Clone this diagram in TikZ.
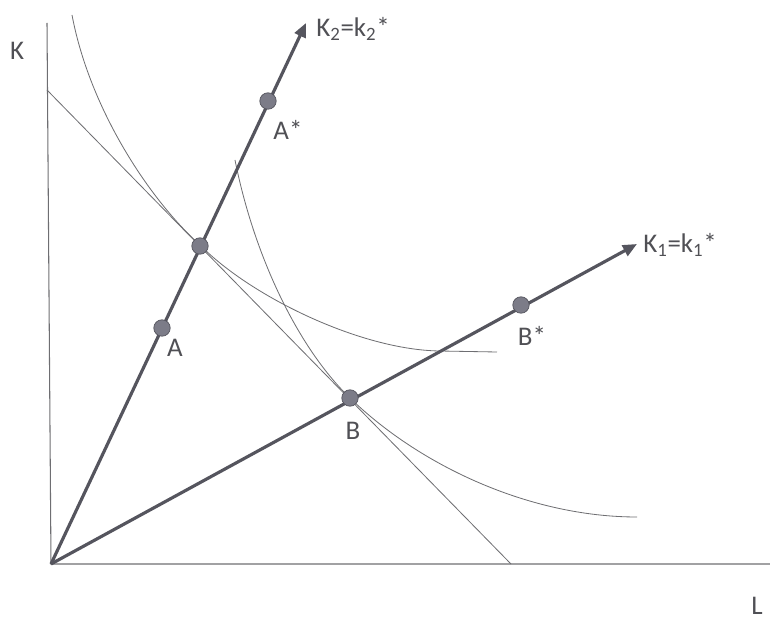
\documentclass[tikz,border=0pt]{standalone}
\usepackage{fontspec}
\setmainfont{Carlito}
\usepackage{tikz}
\usetikzlibrary{arrows.meta}

\definecolor{linegray}{HTML}{6E6E72}
\definecolor{raygray}{HTML}{55555E}
\definecolor{dotgray}{HTML}{7C7C88}
\definecolor{textgray}{HTML}{505055}

\begin{document}
\begin{tikzpicture}[
        x=0.03cm, y=-0.03cm,
        axis/.style={
            draw=linegray,
            line width=0.9pt
        },
        curve/.style={
            draw=linegray,
            line width=0.7pt
        },
        ray/.style={
            draw=raygray,
            line width=2.7pt,
            -{Triangle[length=12pt,width=10pt]}
        },
        point/.style={
            circle,
            fill=dotgray,
            draw=raygray,
            line width=0.6pt,
            inner sep=0pt,
            minimum size=14pt
        },
        lbl/.style={
            text=textgray,
            font=\fontsize{23}{25}\selectfont,
            inner sep=1pt
        }
    ]
    \useasboundingbox (0,0) rectangle (770,620);

    \coordinate (origin) at (51,564);
    \coordinate (ktop) at (47,23);
    \coordinate (lend) at (770,564);
    \coordinate (tip2) at (306,23);
    \coordinate (tip1) at (637,244);
    \coordinate (costtop) at (47,90);
    \coordinate (costend) at (511,564);

    % axes
    \draw[axis] (ktop) -- (origin) -- (lend);
    \node[lbl] (klabel) at (17,51) {K};
    \node[lbl] (llabel) at (757,606) {L};

    % isocost line
    \draw[curve] (costtop) -- (costend);

    % isoquants
    \draw[curve] (72,15) .. controls (90,110) and (150,200) .. (200,245)
        .. controls (250,296) and (360,350) .. (440,351) -- (497,352);
    \draw[curve] (235,160) .. controls (255,260) and (300,350) .. (350,398)
        .. controls (420,466) and (530,517) .. (637,517);

    % rays
    \draw[ray] (origin) -- (tip2);
    \draw[ray] (origin) -- (tip1);
    \node[lbl, anchor=west] (ray2label) at (315,29) {K\textsubscript{2}=k\textsubscript{2}*};
    \node[lbl, anchor=west] (ray1label) at (642,245) {K\textsubscript{1}=k\textsubscript{1}*};

    % points
    \node[point] (a) at (162,328) {};
    \node[point] (m) at (200,246) {};
    \node[point] (astar) at (268,101) {};
    \node[point] (b) at (350,398) {};
    \node[point] (bstar) at (521,305) {};

    \node[lbl] (alabel) at (175,348) {A};
    \node[lbl] (astarlabel) at (288,130) {A*};
    \node[lbl] (blabel) at (353,431) {B};
    \node[lbl] (bstarlabel) at (532,336) {B*};
\end{tikzpicture}
\end{document}
